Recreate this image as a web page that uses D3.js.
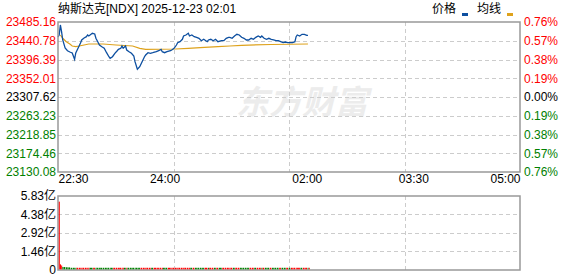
<!DOCTYPE html>
<html>
<head>
<meta charset="utf-8">
<script src="https://cdn.jsdelivr.net/npm/d3@7"></script>
<style>
  body { margin: 0; background: #fff; }
  text { font-family: "Liberation Sans", Arial, "Noto Sans CJK SC", sans-serif; }
</style>
</head>
<body>
<div id="canvas"></div>
<script>
"use strict"

// chart data
let title = "纳斯达克[NDX] 2025-12-23 02:01"
let prevClose = 23307.62

let minutes = [0, 1, 2, 3, 4, 6, 8, 10, 12, 14, 15, 17, 19, 20, 22, 24, 25, 26, 29, 31,
    32, 34, 35, 37, 39, 41, 43, 44, 46, 48, 50, 51, 53, 54, 55, 57, 58, 60, 62, 64,
    65, 67, 69, 71, 73, 74, 76, 78, 80, 83, 85, 87, 88, 90, 92, 95, 96, 98, 100, 101,
    103, 105, 106, 108, 110, 111, 113, 115, 117, 119, 121, 123, 126, 127, 129, 131, 133, 135, 138, 140,
    142, 144, 145, 147, 149, 151, 153, 155, 157, 159, 161, 163, 165, 167, 169, 171, 172, 174, 176, 178,
    180, 182, 184, 186, 188, 190, 192, 194, 196, 198, 200, 201, 202, 204, 206, 208, 210, 211]

let prices = [23449.6, 23454.4, 23478.1, 23462.2, 23442.6, 23423.6, 23417.2, 23414.1, 23411.8, 23396.9,
    23411.8, 23423.6, 23435.5, 23442.6, 23447.3, 23450.4, 23454.4, 23452.0, 23458.4, 23456.8,
    23446.6, 23436.2, 23430.7, 23426.7, 23422.9, 23412.5, 23403.0, 23399.2, 23403.0, 23411.1,
    23417.2, 23420.5, 23422.9, 23428.3, 23422.9, 23428.3, 23418.9, 23414.9, 23411.1, 23404.7,
    23391.2, 23373.2, 23379.3, 23391.2, 23403.0, 23407.0, 23412.5, 23411.1, 23412.5, 23414.9,
    23417.2, 23420.5, 23414.9, 23412.5, 23414.9, 23417.2, 23418.9, 23422.9, 23430.7, 23436.2,
    23438.5, 23444.2, 23452.0, 23454.4, 23458.4, 23452.0, 23454.4, 23450.4, 23448.9, 23446.6,
    23440.9, 23444.2, 23438.5, 23442.6, 23444.2, 23440.9, 23444.2, 23438.5, 23440.9, 23440.9,
    23446.6, 23448.9, 23448.9, 23446.6, 23452.0, 23456.0, 23454.4, 23448.9, 23446.6, 23442.6,
    23442.6, 23446.6, 23444.2, 23448.9, 23452.0, 23448.9, 23452.0, 23446.6, 23444.2, 23446.6,
    23444.2, 23442.6, 23440.9, 23440.9, 23438.5, 23436.2, 23437.8, 23436.2, 23436.2, 23436.2,
    23438.5, 23450.4, 23454.4, 23452.0, 23456.0, 23456.0, 23453.7, 23453.7]

let avgMinutes = [2, 4, 7, 10, 12, 15, 18, 22, 26, 38, 49, 63, 69, 74, 99, 110, 120, 135, 145, 155, 180, 211]
let avgPrices = [23454.4, 23446.6, 23438.5, 23433.1, 23428.3, 23426.7, 23428.3, 23430.7, 23433.1, 23433.1,
    23430.7, 23428.3, 23422.9, 23420.5, 23421.3, 23422.9, 23424.6, 23426.7, 23428.3, 23430.0,
    23431.9, 23433.1]

// volume in 亿, one value per price point
let volumes = [5.33, 0.39, 0.30, 0.18, 0.18, 0.16, 0.15, 0.12, 0.12, 0.12,
    0.12, 0.12, 0.12, 0.12, 0.12, 0.12, 0.12, 0.12, 0.12, 0.12,
    0.12, 0.12, 0.12, 0.12, 0.12, 0.12, 0.12, 0.12, 0.12, 0.12,
    0.12, 0.12, 0.12, 0.12, 0.12, 0.12, 0.12, 0.12, 0.12, 0.12,
    0.12, 0.12, 0.12, 0.12, 0.12, 0.12, 0.12, 0.12, 0.12, 0.12,
    0.12, 0.12, 0.12, 0.12, 0.12, 0.12, 0.12, 0.12, 0.12, 0.12,
    0.12, 0.12, 0.12, 0.12, 0.12, 0.12, 0.12, 0.12, 0.12, 0.12,
    0.12, 0.12, 0.12, 0.12, 0.12, 0.12, 0.12, 0.12, 0.12, 0.12,
    0.12, 0.12, 0.12, 0.12, 0.12, 0.12, 0.12, 0.12, 0.12, 0.12,
    0.12, 0.12, 0.12, 0.12, 0.12, 0.12, 0.12, 0.12, 0.12, 0.12,
    0.12, 0.12, 0.12, 0.12, 0.12, 0.12, 0.12, 0.12, 0.12, 0.12,
    0.12, 0.12, 0.12, 0.12, 0.12, 0.12, 0.12, 0.12]

let priceTicks = [23485.16, 23440.78, 23396.39, 23352.01, 23307.62, 23263.23, 23218.85, 23174.46, 23130.08]
let pctLabels = ["0.76%", "0.57%", "0.38%", "0.19%", "0.00%", "0.19%", "0.38%", "0.57%", "0.76%"]
let volTicks = [5.83, 4.38, 2.92, 1.46, 0]
let volLabels = ["5.83亿", "4.38亿", "2.92亿", "1.46亿", "0"]
let timeTicks = [0, 90, 210, 300, 390]
let timeLabels = ["22:30", "24:00", "02:00", "03:30", "05:00"]
let gridMinutes = [97.5, 195, 292.5]

let red = "#ff0000"
let green = "#008000"
let blue = "#0d4fa0"
let orange = "#dea21c"

let drawing = d3.select("#canvas")
    .append("svg")
    .attr("width", 578)
    .attr("height", 276)

let x = d3.scaleLinear().domain([0, 390]).range([58, 520])
let y = d3.scaleLinear().domain([23130.08, 23485.16]).range([172, 22])
let yVol = d3.scaleLinear().domain([0, 5.83]).range([270, 196])

function tickColor(v) {
    if (Math.abs(v - prevClose) < 0.01) return "#000"
    return v > prevClose ? red : green
}

// title and legend
drawing.append("text")
    .attr("x", 58)
    .attr("y", 13)
    .attr("font-size", 12)
    .attr("fill", "#000")
    .text(title)

let legend = [["价格", blue, 432], ["均线", orange, 477]]
legend.forEach(function (d) {
    drawing.append("text")
        .attr("x", d[2])
        .attr("y", 13)
        .attr("font-size", 12)
        .attr("fill", "#000")
        .text(d[0])
    drawing.append("rect")
        .attr("x", d[2] + 30)
        .attr("y", 13)
        .attr("width", 6)
        .attr("height", 3)
        .attr("fill", d[1])
})

// watermark
drawing.append("text")
    .attr("x", 236)
    .attr("y", 114)
    .attr("font-size", 33)
    .attr("font-weight", "bold")
    .attr("font-style", "italic")
    .attr("font-family", "Noto Sans CJK SC")
    .attr("fill", "#ececec")
    .text("东方财富")

// grids
function grid(yValues, yScale, top, bottom) {
    drawing.append("g")
        .selectAll("line.h")
        .data(yValues)
        .join("line")
        .attr("x1", 58)
        .attr("x2", 520)
        .attr("y1", d => Math.round(yScale(d)) + 0.5)
        .attr("y2", d => Math.round(yScale(d)) + 0.5)
        .attr("stroke", "#cccccc")
        .attr("stroke-dasharray", "4,3")
    drawing.append("g")
        .selectAll("line.v")
        .data(gridMinutes)
        .join("line")
        .attr("x1", d => Math.round(x(d)) + 0.5)
        .attr("x2", d => Math.round(x(d)) + 0.5)
        .attr("y1", top)
        .attr("y2", bottom)
        .attr("stroke", "#cccccc")
        .attr("stroke-dasharray", "4,3")
}
grid(priceTicks.slice(1, -1), y, 22, 172)
grid(volTicks.slice(1, -1), yVol, 196, 270)

// price axis labels
let leftAxis = drawing.append("g")
    .attr("transform", "translate(56,0)")
    .call(d3.axisLeft(y).tickValues(priceTicks).tickSize(0).tickPadding(0).tickFormat(d3.format(".2f")))
leftAxis.select(".domain").remove()
leftAxis.selectAll("text")
    .attr("font-size", 12)
    .attr("font-family", "Liberation Sans, Arial, sans-serif")
    .attr("fill", d => tickColor(d))

let rightAxis = drawing.append("g")
    .attr("transform", "translate(524,0)")
    .call(d3.axisRight(y).tickValues(priceTicks).tickSize(0).tickPadding(0)
        .tickFormat((d, i) => pctLabels[i]))
rightAxis.select(".domain").remove()
rightAxis.selectAll("text")
    .attr("font-size", 12)
    .attr("font-family", "Liberation Sans, Arial, sans-serif")
    .attr("fill", d => tickColor(d))

// time labels
let timeAxis = drawing.append("g")
    .attr("transform", "translate(0,174)")
    .call(d3.axisBottom(x).tickValues(timeTicks).tickSize(0).tickPadding(0)
        .tickFormat((d, i) => timeLabels[i]))
timeAxis.select(".domain").remove()
timeAxis.selectAll("text")
    .attr("font-size", 12)
    .attr("font-family", "Liberation Sans, Arial, sans-serif")
    .attr("fill", "#000")
    .attr("text-anchor", (d, i) => i == 0 ? "start" : (i == timeTicks.length - 1 ? "end" : "middle"))

// volume axis labels
let volAxis = drawing.append("g")
    .attr("transform", "translate(56,0)")
    .call(d3.axisLeft(yVol).tickValues(volTicks).tickSize(0).tickPadding(0)
        .tickFormat((d, i) => volLabels[i]))
volAxis.select(".domain").remove()
volAxis.selectAll("text")
    .attr("font-size", 12)
    .attr("font-family", "Liberation Sans, Arial, \"Noto Sans CJK SC\", sans-serif")
    .attr("fill", "#000")

// average line and price line
let avgLine = d3.line()
    .x((d, i) => x(avgMinutes[i]))
    .y(d => y(d))
drawing.append("path")
    .attr("d", avgLine(avgPrices))
    .attr("fill", "none")
    .attr("stroke", orange)
    .attr("stroke-width", 1.2)

let priceLine = d3.line()
    .x((d, i) => x(minutes[i]))
    .y(d => y(d))
drawing.append("path")
    .attr("d", priceLine(prices))
    .attr("fill", "none")
    .attr("stroke", blue)
    .attr("stroke-width", 1.3)

// frames
drawing.append("rect")
    .attr("x", 58)
    .attr("y", 22)
    .attr("width", 462)
    .attr("height", 150)
    .attr("fill", "none")
    .attr("stroke", "#999999")
    .attr("stroke-width", 1.5)

drawing.append("rect")
    .attr("x", 58)
    .attr("y", 196)
    .attr("width", 462)
    .attr("height", 74)
    .attr("fill", "none")
    .attr("stroke", "#999999")
    .attr("stroke-width", 1.5)

// volume bars, drawn over the frame edge so the tiny ones still show
drawing.append("g")
    .selectAll("rect")
    .data(volumes)
    .join("rect")
    .attr("x", (d, i) => x(minutes[i]) + 0.8)
    .attr("width", (d, i) => {
        let next = i < minutes.length - 1 ? minutes[i + 1] : minutes[i] + 1
        return Math.max(1, x(next) - x(minutes[i]) - 0.6)
    })
    .attr("y", d => yVol(d) - 0.7)
    .attr("height", d => yVol(0) - yVol(d))
    .attr("fill", (d, i) => {
        let before = i == 0 ? prevClose : prices[i - 1]
        return prices[i] >= before ? red : green
    })
</script>
</body>
</html>
